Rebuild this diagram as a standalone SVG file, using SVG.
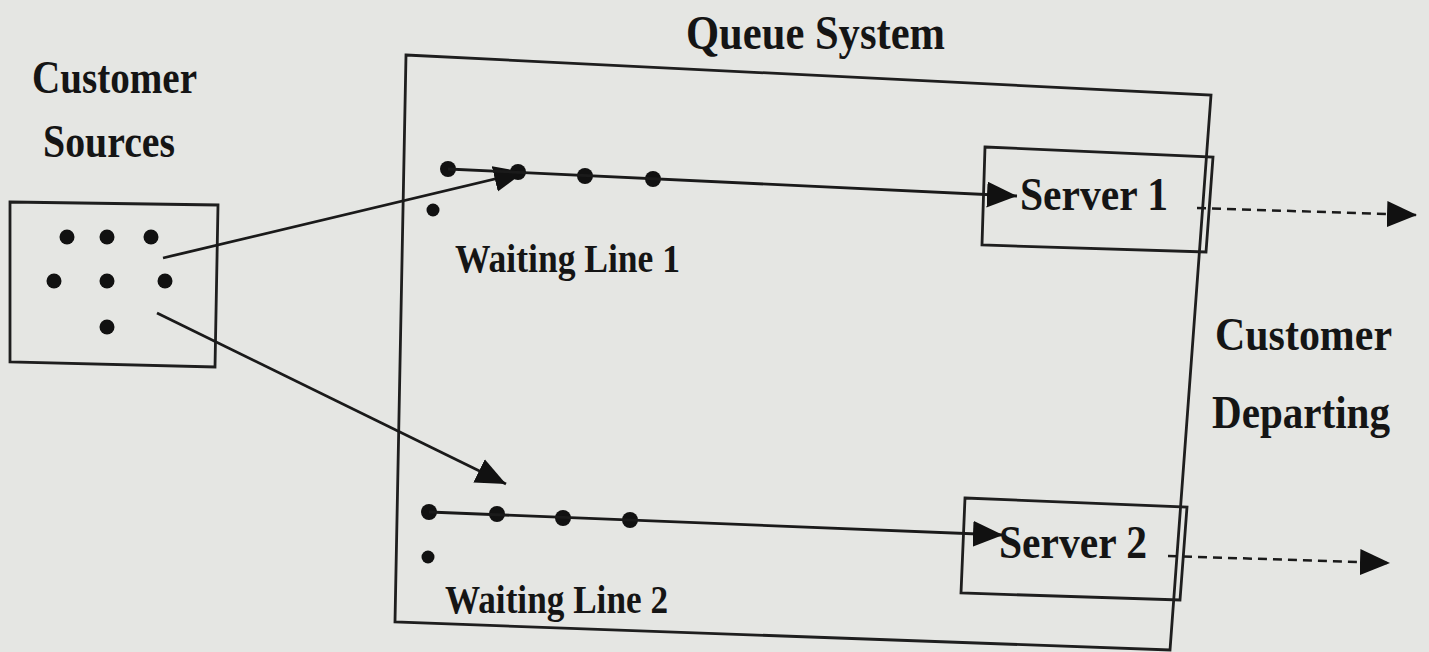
<svg xmlns="http://www.w3.org/2000/svg" width="1429" height="652" viewBox="0 0 1429 652">
  <defs>
    <style>
      .box { fill: none; stroke: #1e1e1e; stroke-width: 2.8; stroke-linejoin: miter; }
      .lbl { font-family: "Liberation Serif", "Times New Roman", serif; font-weight: bold; fill: #151515; }
      .big { font-size: 48px; }
      .mid { font-size: 46px; }
      .small { font-size: 39px; }
      .dot { fill: #111; }
      .conn { stroke: #1a1a1a; stroke-width: 2.8; fill: none; }
      .dash { stroke: #1a1a1a; stroke-width: 2.5; fill: none; stroke-dasharray: 9 6; }
    </style>
    <marker id="ah" markerUnits="userSpaceOnUse" markerWidth="32" markerHeight="28" refX="30" refY="13" orient="auto" viewBox="0 0 32 28">
      <path d="M0,0 L30,13 L0,26 z" fill="#111"/>
    </marker>
  </defs>
  <rect x="0" y="0" width="1429" height="652" fill="#e5e6e3"/>

  <g id="title">
    <text class="lbl big" x="686" y="49" textLength="259" lengthAdjust="spacingAndGlyphs">Queue System</text>
  </g>

  <g id="customer-sources">
    <text class="lbl mid" x="32" y="93" textLength="165" lengthAdjust="spacingAndGlyphs">Customer</text>
    <text class="lbl mid" x="43" y="157" textLength="132" lengthAdjust="spacingAndGlyphs">Sources</text>
    <polygon class="box" points="10,202 218,205 215,367 10,362"/>
    <circle class="dot" cx="67" cy="237" r="7.5"/>
    <circle class="dot" cx="107" cy="237" r="7.5"/>
    <circle class="dot" cx="151" cy="237" r="7.5"/>
    <circle class="dot" cx="54" cy="281" r="7.5"/>
    <circle class="dot" cx="107" cy="281" r="7.5"/>
    <circle class="dot" cx="165" cy="281" r="7.5"/>
    <circle class="dot" cx="107" cy="327" r="7.5"/>
  </g>

  <g id="queue-system">
    <polygon class="box" points="406,55 1211,95 1170,650 395,622"/>
  </g>

  <g id="server-1">
    <polygon class="box" points="985,147 1213,157 1206,252 982,245"/>
    <text class="lbl mid" x="1020" y="210" textLength="148" lengthAdjust="spacingAndGlyphs">Server 1</text>
  </g>

  <g id="server-2">
    <polygon class="box" points="965,498 1187,507 1180,600 961,593"/>
    <text class="lbl mid" x="999" y="558" textLength="148" lengthAdjust="spacingAndGlyphs">Server 2</text>
  </g>

  <g id="waiting-line-1">
    <circle class="dot" cx="448" cy="169" r="8"/>
    <circle class="dot" cx="518" cy="172" r="8"/>
    <circle class="dot" cx="585" cy="176" r="8"/>
    <circle class="dot" cx="653" cy="179" r="8"/>
    <circle class="dot" cx="433" cy="210" r="6.5"/>
    <text class="lbl small" x="455" y="272" textLength="225" lengthAdjust="spacingAndGlyphs">Waiting Line 1</text>
  </g>

  <g id="waiting-line-2">
    <circle class="dot" cx="429" cy="512" r="8"/>
    <circle class="dot" cx="497" cy="514" r="8"/>
    <circle class="dot" cx="563" cy="518" r="8"/>
    <circle class="dot" cx="630" cy="520" r="8"/>
    <circle class="dot" cx="428" cy="557" r="6.5"/>
    <text class="lbl small" x="445" y="613" textLength="223" lengthAdjust="spacingAndGlyphs">Waiting Line 2</text>
  </g>

  <g id="customer-departing">
    <text class="lbl mid" x="1215" y="350" textLength="177" lengthAdjust="spacingAndGlyphs">Customer</text>
    <text class="lbl mid" x="1212" y="428" textLength="178" lengthAdjust="spacingAndGlyphs">Departing</text>
  </g>

  <g id="connectors">
    <line class="conn" x1="163" y1="258" x2="524" y2="172" marker-end="url(#ah)"/>
    <line class="conn" x1="157" y1="313" x2="506" y2="484" marker-end="url(#ah)"/>
    <line class="conn" x1="448" y1="169" x2="1017" y2="196" marker-end="url(#ah)"/>
    <line class="conn" x1="429" y1="512" x2="1003" y2="535" marker-end="url(#ah)"/>
    <line class="dash" x1="1197" y1="208" x2="1417" y2="215" marker-end="url(#ah)"/>
    <line class="dash" x1="1168" y1="556" x2="1390" y2="563" marker-end="url(#ah)"/>
  </g>
</svg>
